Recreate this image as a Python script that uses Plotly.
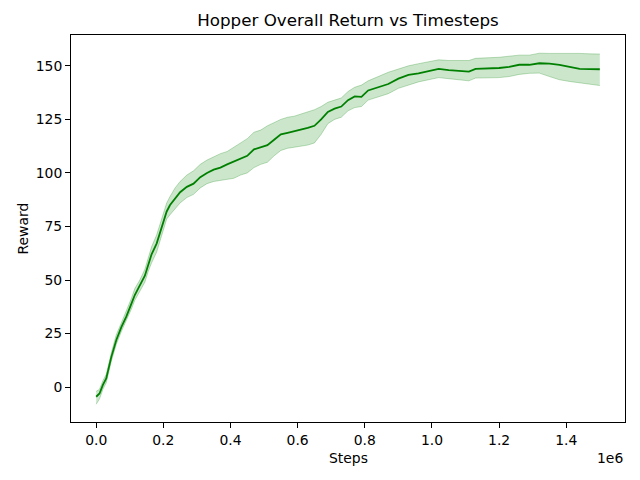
import plotly.graph_objects as go

# steps in millions
steps_m = [0.000, 0.010, 0.020, 0.030, 0.045, 0.060, 0.075, 0.090, 0.105, 0.115,
           0.130, 0.145, 0.155, 0.165, 0.180, 0.190, 0.200, 0.210, 0.220, 0.235,
           0.250, 0.270, 0.290, 0.310, 0.330, 0.350, 0.370, 0.390, 0.410, 0.430,
           0.450, 0.470, 0.490, 0.510, 0.530, 0.550, 0.570, 0.590, 0.610, 0.630,
           0.650, 0.670, 0.690, 0.710, 0.730, 0.750, 0.770, 0.790, 0.810, 0.840,
           0.870, 0.900, 0.930, 0.960, 0.990, 1.020, 1.050, 1.080, 1.110, 1.130,
           1.170, 1.200, 1.230, 1.260, 1.290, 1.320, 1.350, 1.380, 1.410, 1.440,
           1.470, 1.500]
mean_reward = [-4.5, -3, 1, 4, 14, 22, 28, 33, 39, 43,
               47.5, 52, 57, 62, 67, 72, 77, 82, 85, 88,
               91, 93.5, 95, 98, 100, 101.5, 102.5, 104, 105.3, 106.5,
               108, 111, 112, 113, 115.5, 118, 118.7, 119.5, 120, 121,
               122, 125, 128.5, 130, 131, 134, 135.7, 135.5, 138.5, 140,
               141.5, 144, 145.8, 146.5, 147.5, 148.6, 148, 147.5, 147.3, 148.6,
               148.8, 149, 149.5, 150.5, 150.5, 151.2, 151, 150.5, 149.5, 148.6,
               148.5, 148.4]
lower_reward = [-8, -5.5, -1, 2, 12, 20, 26, 31, 36.5, 40.5,
                44.5, 49, 54, 58, 63, 68.5, 73, 78.5, 80.5, 83,
                86, 88.5, 90, 93, 95, 96, 96.5, 97, 97.5, 99,
                100, 102.5, 104, 105, 108, 110.5, 111.5, 112, 112.5, 113,
                114, 118, 123, 125, 126, 129, 130.5, 131, 134, 135.5,
                137, 139.5, 141, 142.5, 143.5, 144.5, 144, 143.5, 143, 144.3,
                144.3, 144.5, 145, 146, 146.5, 146.6, 145, 143.5, 142.7, 142,
                141.2, 140.8]
upper_reward = [-2, -1, 3, 6, 16, 24.5, 30, 35.5, 41.5, 46,
                50, 55, 60, 65.5, 71, 76, 80.5, 86, 89, 93,
                96, 99, 101, 104, 106, 107.5, 109, 110, 112, 114,
                116, 119, 120, 122, 123.5, 125, 126, 126.5, 127.5, 128.5,
                129.5, 131, 133, 134, 135, 138, 140, 141, 143, 145,
                147, 148.5, 150, 151, 152, 152.8, 152.5, 152.5, 152.5, 153.5,
                153.6, 154, 154.5, 155, 155, 155.9, 155.8, 155.9, 155.9, 155.8,
                155.6, 155.5]

x_tick_vals = [0.0, 0.2, 0.4, 0.6, 0.8, 1.0, 1.2, 1.4]
y_tick_vals = [0, 25, 50, 75, 100, 125, 150]

steps = [s * 1e6 for s in steps_m]
font = "DejaVu Sans"

fig = go.Figure()
fig.add_trace(go.Scatter(x=steps, y=lower_reward, mode="lines",
                         line=dict(color="rgba(0,128,0,0.25)", width=1),
                         showlegend=False, hoverinfo="skip"))
fig.add_trace(go.Scatter(x=steps, y=upper_reward, mode="lines", fill="tonexty",
                         fillcolor="rgba(0,128,0,0.2)",
                         line=dict(color="rgba(0,128,0,0.25)", width=1),
                         showlegend=False, hoverinfo="skip"))
fig.add_trace(go.Scatter(x=steps, y=mean_reward, mode="lines",
                         line=dict(color="#008000", width=1.8),
                         showlegend=False))

# the page body adds ~8px, margins account for it
fig.update_layout(
    width=640, height=480,
    margin=dict(l=63, r=23, t=27, b=66),
    paper_bgcolor="white", plot_bgcolor="white",
    font=dict(family=font, size=13.9, color="black"),
    title=dict(text="Hopper Overall Return vs Timesteps", x=0.5, xref="paper",
               y=1 - 12 / 480, yanchor="middle", font=dict(size=16.7)),
)
fig.update_xaxes(range=[-0.075e6, 1.575e6], showgrid=False, zeroline=False,
                 tickvals=[v * 1e6 for v in x_tick_vals],
                 ticktext=[f"{v:.1f}" for v in x_tick_vals],
                 ticks="outside", ticklen=5, tickcolor="black",
                 showline=True, linecolor="black", linewidth=1, mirror=True)
fig.update_yaxes(range=[-16.3, 164.4], showgrid=False, zeroline=False,
                 tickvals=y_tick_vals,
                 ticks="outside", ticklen=5, tickcolor="black",
                 showline=True, linecolor="black", linewidth=1, mirror=True)

fig.add_annotation(text="Steps", x=0.5, xref="paper", y=0, yref="paper",
                   yshift=-36, yanchor="middle", showarrow=False)
fig.add_annotation(text="Reward", x=0, xref="paper", xshift=-49, y=0.5, yref="paper",
                   textangle=-90, showarrow=False, xanchor="center")
fig.add_annotation(text="1e6", x=1, xref="paper", xanchor="right", y=0, yref="paper",
                   yshift=-36, yanchor="middle", showarrow=False)

fig.write_html("out.html")
